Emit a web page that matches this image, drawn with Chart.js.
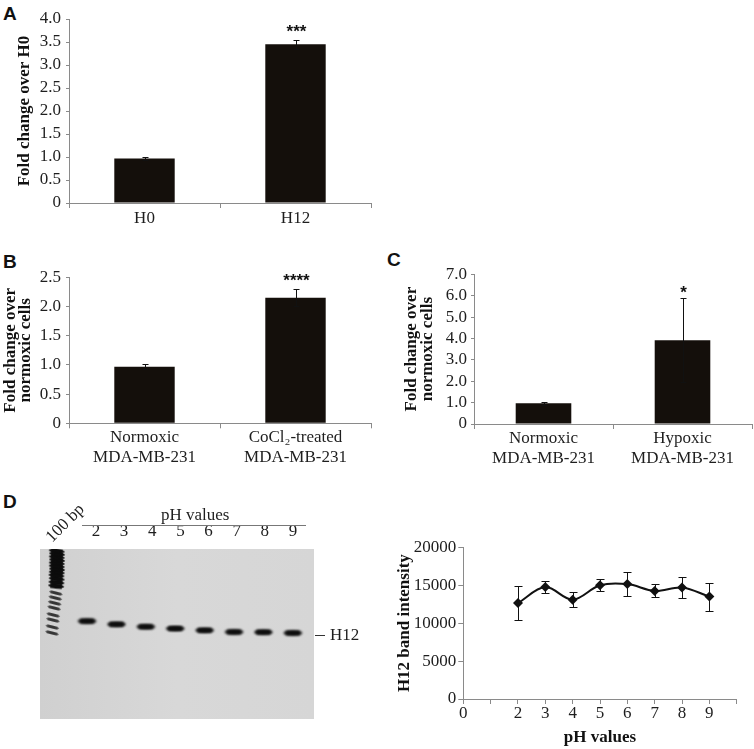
<!DOCTYPE html>
<html><head><meta charset="utf-8"><title>Figure</title>
<script src="https://cdn.jsdelivr.net/npm/chart.js@4.4.1/dist/chart.umd.min.js"></script>
<style>
html,body{margin:0;padding:0;background:#fff;}
body{width:754px;height:749px;position:relative;overflow:hidden;}
canvas{position:absolute;}
.letter{position:absolute;font-family:"Liberation Sans",Arial,sans-serif;font-weight:bold;font-size:19px;line-height:19px;color:#111;}
.txt{position:absolute;font-family:"Liberation Serif","Times New Roman",serif;font-size:17px;line-height:18px;color:#1e1e1e;white-space:nowrap;}
</style></head><body>
<div class="letter" style="left:3px;top:4px">A</div>
<div class="letter" style="left:3px;top:252px">B</div>
<div class="letter" style="left:387px;top:250px">C</div>
<div class="letter" style="left:3px;top:492px">D</div>

<canvas id="chartA" width="380" height="235" style="left:0;top:0"></canvas>
<canvas id="chartB" width="380" height="235" style="left:0;top:240px"></canvas>
<canvas id="chartC" width="374" height="235" style="left:380px;top:240px"></canvas>
<canvas id="gel" width="380" height="269" style="left:0;top:480px"></canvas>
<canvas id="chartD" width="374" height="219" style="left:380px;top:530px"></canvas>

<div class="txt" style="left:40px;top:514px;width:50px;text-align:center;transform:rotate(-45deg)">100 bp</div>
<div class="txt" style="left:161px;top:506px">pH values</div>
<div style="position:absolute;left:82px;top:525px;width:224px;border-top:1px solid #777"></div>
<div style="position:absolute;left:315px;top:635px;width:10px;border-top:1px solid #333"></div>
<div class="txt" style="left:330px;top:626px">H12</div>

<script>
// ---------- data ----------
const catA = ['H0', 'H12'];
const valA = [0.97, 3.45];
const errA = [0.04, 0.10];
const sigA = ['', '***'];

const catB = [['Normoxic', 'MDA-MB-231'], ['CoCl\u2082-treated', 'MDA-MB-231']];
const valB = [0.97, 2.15];
const errB = [0.04, 0.15];
const sigB = ['', '****'];

const catC = [['Normoxic', 'MDA-MB-231'], ['Hypoxic', 'MDA-MB-231']];
const valC = [0.97, 3.92];
const errC = [0.07, 1.97];
const sigC = ['', '*'];

const phValues = [2, 3, 4, 5, 6, 7, 8, 9];
const bandIntensity = [12650, 14750, 13100, 15000, 15150, 14250, 14700, 13500];
const bandIntensityErr = [2280, 830, 1010, 820, 1560, 860, 1320, 1850];

// gel: lane index (ladder = 0) and relative migration (0 = well, 1 = gel bottom)
const gelLanes = [1, 2, 3, 4, 5, 6, 7, 8];
const gelBandMigration = [0.424, 0.443, 0.457, 0.468, 0.478, 0.488, 0.489, 0.494];
const ladderTopLane = [-0.03, -0.02, -0.03, -0.02, -0.03, -0.03, -0.02, -0.03, -0.04, -0.03, -0.04, -0.05];
const ladderTopMigration = [0.012, 0.030, 0.048, 0.066, 0.084, 0.102, 0.120, 0.138, 0.156, 0.176, 0.197, 0.218];
const ladderLowLane = [-0.06, -0.08, -0.1, -0.12, -0.15, -0.16, -0.18, -0.19];
const ladderLowMigration = [0.259, 0.288, 0.318, 0.347, 0.388, 0.418, 0.459, 0.494];

// ---------- styling ----------
const serif = "'Liberation Serif', 'Times New Roman', serif";
const axisColor = '#8a8a8a';
const textColor = '#1e1e1e';
const barColor = '#140f0b';
Chart.defaults.font.family = serif;
Chart.defaults.color = textColor;

const errorPlugin = {
  id: 'errorBars',
  afterDatasetsDraw(chart, args, opts) {
    const ctx = chart.ctx;
    const meta = chart.getDatasetMeta(0);
    const ys = chart.scales.y;
    const data = chart.data.datasets[0].data;
    ctx.save();
    ctx.strokeStyle = opts.color || '#111';
    ctx.lineWidth = 1;
    meta.data.forEach((el, i) => {
      const d = data[i];
      const v = (typeof d === 'object') ? d.y : d;
      const e = opts.errors[i];
      const x = Math.round(el.x) + 0.5;
      const top = Math.round(ys.getPixelForValue(v + e)) + 0.5;
      const bot = Math.round(ys.getPixelForValue(v - e)) + 0.5;
      ctx.beginPath();
      ctx.moveTo(x, top); ctx.lineTo(x, bot);
      ctx.moveTo(x - opts.cap, top); ctx.lineTo(x + opts.cap, top);
      ctx.moveTo(x - opts.cap, bot); ctx.lineTo(x + opts.cap, bot);
      ctx.stroke();
      if (opts.stars && opts.stars[i]) {
        ctx.fillStyle = '#111';
        ctx.font = "bold 17px 'Liberation Sans', Arial, sans-serif";
        ctx.textAlign = 'center';
        ctx.textBaseline = 'alphabetic';
        ctx.fillText(opts.stars[i], x, top - opts.starGap);
      }
    });
    ctx.restore();
  }
};

function barChart(id, cfg) {
  return new Chart(document.getElementById(id), {
    type: 'bar',
    data: { labels: cfg.labels, datasets: [{ data: cfg.values, backgroundColor: barColor, barPercentage: 0.4, categoryPercentage: 1 }] },
    options: {
      responsive: false, animation: false, events: [],
      layout: { padding: cfg.padding },
      plugins: {
        legend: { display: false }, tooltip: { enabled: false },
        errorBars: { errors: cfg.errors, stars: cfg.stars, cap: 3, starGap: cfg.starGap }
      },
      scales: {
        x: {
          grid: { display: true, drawOnChartArea: false, drawTicks: true, tickLength: 5, color: axisColor, offset: true },
          border: { color: axisColor },
          ticks: { font: { size: 17, lineHeight: 1.2 }, color: textColor, padding: cfg.xpad, maxRotation: 0, autoSkip: false },
          afterFit(s) { s.height = cfg.xh; }
        },
        y: {
          min: 0, max: cfg.max,
          ticks: { stepSize: cfg.step, autoSkip: false, callback: v => v === 0 ? '0' : v.toFixed(1), font: { size: 17 }, color: textColor, padding: cfg.ypad },
          grid: { drawOnChartArea: false, tickLength: 3, color: axisColor },
          border: { color: axisColor },
          title: { display: true, text: cfg.title, color: '#111', font: { size: 17, weight: 'bold', lineHeight: cfg.tlh }, padding: { top: cfg.tp, bottom: 0 } },
          afterFit(s) { s.width = cfg.yw; }
        }
      }
    },
    plugins: [errorPlugin]
  });
}

barChart('chartA', {
  labels: catA, values: valA, errors: errA, stars: sigA, starGap: 4,
  max: 4, step: 0.5, title: 'Fold change over H0', tlh: 1.2, tp: 14.8,
  padding: { top: 19, right: 9, left: 0, bottom: 0 }, yw: 69, xh: 32, xpad: 0, ypad: 5
});
barChart('chartB', {
  labels: catB, values: valB, errors: errB, stars: sigB, starGap: 4,
  max: 2.5, step: 0.5, title: ['Fold change over', 'normoxic cells'], tlh: 0.91, tp: 2.75,
  padding: { top: 37.3, right: 9, left: 0, bottom: 0 }, yw: 69, xh: 51.7, xpad: -1, ypad: 5
});
barChart('chartC', {
  labels: catC, values: valC, errors: errC, stars: sigC, starGap: 1,
  max: 7, step: 1, title: ['Fold change over', 'normoxic cells'], tlh: 0.91, tp: 24.25,
  padding: { top: 34.3, right: 2, left: 0, bottom: 0 }, yw: 94, xh: 51, xpad: -1, ypad: 4
});

// ---------- line chart (band intensity) ----------
new Chart(document.getElementById('chartD'), {
  type: 'line',
  data: {
    datasets: [{
      data: phValues.map((p, i) => ({ x: p, y: bandIntensity[i] })),
      borderColor: '#111', borderWidth: 2, tension: 0.35,
      pointStyle: 'rectRot', pointRadius: 5, pointBackgroundColor: '#111', pointBorderWidth: 0
    }]
  },
  options: {
    responsive: false, animation: false, events: [],
    layout: { padding: { top: 17.3, right: 17.3, left: 0, bottom: 0 } },
    plugins: { legend: { display: false }, tooltip: { enabled: false },
      errorBars: { errors: bandIntensityErr, cap: 4, starGap: 0 } },
    scales: {
      x: {
        type: 'linear', min: 0, max: 10,
        ticks: { stepSize: 1, callback: v => (v === 1 || v === 10) ? '' : String(v), font: { size: 17 }, color: textColor, padding: -1, maxRotation: 0, autoSkip: false },
        grid: { drawOnChartArea: false, tickLength: 5, color: axisColor },
        border: { color: axisColor },
        title: { display: true, text: 'pH values', color: '#111', font: { size: 17, weight: 'bold' }, padding: { top: 0, bottom: 1 } },
        afterFit(s) { s.height = 50; }
      },
      y: {
        min: 0, max: 20000,
        ticks: { stepSize: 5000, autoSkip: false, callback: v => String(v), font: { size: 17 }, color: textColor, padding: 2 },
        grid: { drawOnChartArea: false, tickLength: 5, color: axisColor },
        border: { color: axisColor },
        title: { display: true, text: 'H12 band intensity', color: '#111', font: { size: 17, weight: 'bold' }, padding: { top: 14.8, bottom: 0 } },
        afterFit(s) { s.width = 83.3; }
      }
    }
  },
  plugins: [errorPlugin]
});

// ---------- gel image ----------
function bandImage(w, h, alpha, blur) {
  const c = document.createElement('canvas');
  c.width = w + 6; c.height = h + 6;
  const g = c.getContext('2d');
  g.filter = 'blur(' + blur + 'px)';
  g.fillStyle = 'rgba(12,12,12,' + alpha + ')';
  g.beginPath();
  g.ellipse(c.width / 2, c.height / 2, w / 2, h / 2, 0, 0, Math.PI * 2);
  g.fill();
  g.fillRect(3 + h / 2, 3, w - h, h);
  return c;
}
const sampleBand = bandImage(19, 5, 0.95, 0.9);
const ladderTopBand = bandImage(16, 4.5, 0.92, 0.7);
const ladderLowBand = bandImage(14, 3, 0.55, 0.7);

const gelBg = {
  id: 'gelBg',
  beforeDatasetsDraw(chart) {
    const { ctx, chartArea: a } = chart;
    ctx.save();
    const grd = ctx.createLinearGradient(a.left, 0, a.right, 0);
    grd.addColorStop(0, '#d0d0d0');
    grd.addColorStop(0.5, '#d8d8d8');
    grd.addColorStop(1, '#d6d6d6');
    ctx.fillStyle = grd;
    ctx.fillRect(a.left, a.top, a.width, a.height);
    ctx.restore();
  }
};

new Chart(document.getElementById('gel'), {
  type: 'scatter',
  data: {
    datasets: [
      { data: gelLanes.map((l, i) => ({ x: l, y: gelBandMigration[i] })), pointStyle: sampleBand, pointRadius: 10 },
      { data: ladderTopLane.map((l, i) => ({ x: l, y: ladderTopMigration[i] })), pointStyle: ladderTopBand, pointRadius: 8, rotation: 6 },
      { data: ladderLowLane.map((l, i) => ({ x: l, y: ladderLowMigration[i] })), pointStyle: ladderLowBand, pointRadius: 8, rotation: 14 }
    ]
  },
  options: {
    responsive: false, animation: false, events: [],
    layout: { padding: { top: 39, right: 66, left: 40, bottom: 30 } },
    plugins: { legend: { display: false }, tooltip: { enabled: false } },
    scales: {
      x: { type: 'linear', min: -0.6, max: 8.72, display: false },
      y: { type: 'linear', min: 0, max: 1, reverse: true, display: false },
      x2: {
        type: 'linear', position: 'top', min: 0.01, max: 9.75,
        afterBuildTicks(s) { s.ticks = phValues.map(v => ({ value: v })); },
        ticks: { font: { size: 17 }, color: textColor, padding: -1, maxRotation: 0, autoSkip: false },
        grid: { display: false }, border: { display: false },
        afterFit(s) { s.height = 30; }
      }
    }
  },
  plugins: [gelBg]
});
</script>
</body></html>
